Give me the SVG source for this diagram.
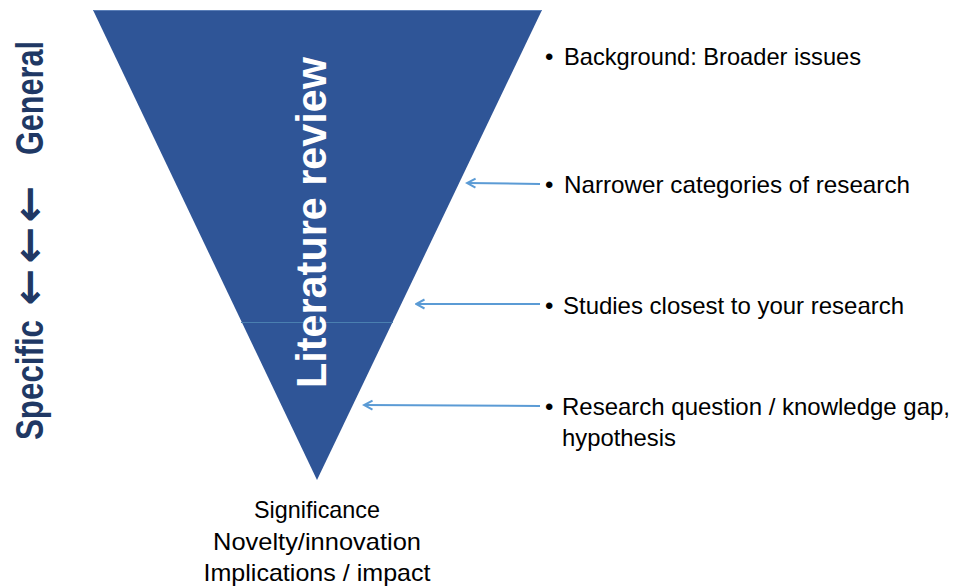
<svg xmlns="http://www.w3.org/2000/svg" width="957" height="587" viewBox="0 0 957 587">
<style>
.lbl{font-family:"Liberation Sans",Arial,sans-serif;font-size:24px;fill:#000}
.side{font-family:"Liberation Sans",Arial,sans-serif;font-weight:bold;font-size:39px;fill:#203864}
.arr{font-family:"DejaVu Sans","Liberation Sans",sans-serif;font-weight:bold;font-size:44px;fill:#203864}
.conn{stroke:#5B9BD5;stroke-width:2;fill:none;marker-end:url(#ah)}
</style>
<defs>
<marker id="ah" viewBox="0 0 12 12" refX="10.5" refY="6" markerWidth="12" markerHeight="12" orient="auto" markerUnits="userSpaceOnUse">
<path d="M2,1.5 L10.5,6 L2,10.5" fill="none" stroke="#5B9BD5" stroke-width="2"/>
</marker>
</defs>
<rect width="957" height="587" fill="#fff"/>
<g id="funnel">
<polygon points="93,10 542,10 317,480" fill="#2F5597"/>
<line x1="93" y1="10.5" x2="542" y2="10.5" stroke="#5B7FB8" stroke-width="1"/>
<line x1="241" y1="322.5" x2="393" y2="322.5" stroke="#4A7FB0" stroke-width="1.2"/>
<text transform="translate(326,222.5) rotate(-90)" text-anchor="middle" textLength="331" lengthAdjust="spacingAndGlyphs" style="font-family:'Liberation Sans',Arial,sans-serif;font-weight:bold;font-size:42px;fill:#fff">Literature review</text>
</g>
<g id="axis">
<text class="side" transform="translate(43,380) rotate(-90)" text-anchor="middle" textLength="120" lengthAdjust="spacingAndGlyphs">Specific</text>
<text class="arr" transform="translate(44,287) rotate(-90)" text-anchor="middle">←</text>
<text class="arr" transform="translate(44,245) rotate(-90)" text-anchor="middle">←</text>
<text class="arr" transform="translate(44,204) rotate(-90)" text-anchor="middle">←</text>
<text class="side" transform="translate(43,98) rotate(-90)" text-anchor="middle" textLength="114" lengthAdjust="spacingAndGlyphs">General</text>
</g>
<g id="item-background">
<text class="lbl" x="545" y="65">•</text>
<text class="lbl" x="564" y="65" textLength="297" lengthAdjust="spacingAndGlyphs">Background: Broader issues</text>
</g>
<g id="item-narrower">
<text class="lbl" x="545" y="193">•</text>
<text class="lbl" x="564" y="193" textLength="346" lengthAdjust="spacingAndGlyphs">Narrower categories of research</text>
</g>
<g id="item-studies">
<text class="lbl" x="545" y="314">•</text>
<text class="lbl" x="563" y="314" textLength="341" lengthAdjust="spacingAndGlyphs">Studies closest to your research</text>
</g>
<g id="item-question">
<text class="lbl" x="545" y="415">•</text>
<text class="lbl" x="562" y="415" textLength="388" lengthAdjust="spacingAndGlyphs">Research question / knowledge gap,</text>
<text class="lbl" x="562" y="446" textLength="114" lengthAdjust="spacingAndGlyphs">hypothesis</text>
</g>
<g id="outcome">
<text class="lbl" x="317" y="518" text-anchor="middle" textLength="126" lengthAdjust="spacingAndGlyphs">Significance</text>
<text class="lbl" x="317" y="550" text-anchor="middle" textLength="208" lengthAdjust="spacingAndGlyphs">Novelty/innovation</text>
<text class="lbl" x="317" y="581" text-anchor="middle" textLength="227" lengthAdjust="spacingAndGlyphs">Implications / impact</text>
</g>
<g id="connectors">
<line class="conn" x1="540" y1="184" x2="467" y2="183"/>
<line class="conn" x1="540" y1="304" x2="416" y2="304"/>
<line class="conn" x1="540" y1="406" x2="364" y2="405"/>
</g>
</svg>
